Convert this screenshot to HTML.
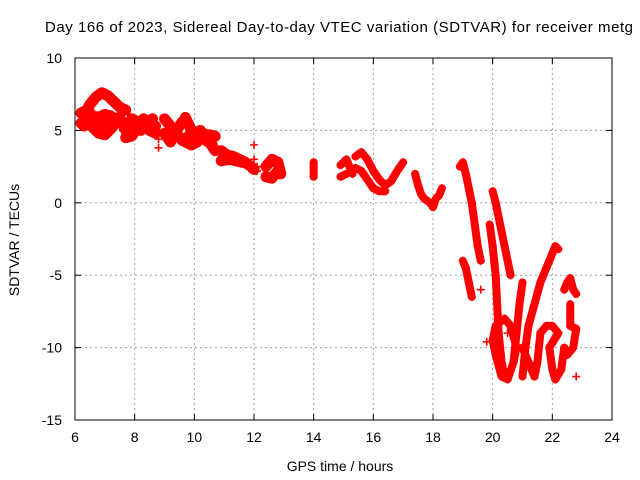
<!DOCTYPE html>
<html><head><meta charset="utf-8"><style>
body{margin:0;background:#fff}
svg{display:block;font-family:"Liberation Sans",sans-serif}
</style></head><body>
<svg id="chart" width="640" height="480">
<text x="45" y="32" font-size="15" textLength="588" lengthAdjust="spacing">Day 166 of 2023, Sidereal Day-to-day VTEC variation (SDTVAR) for receiver metg</text>
<text x="340" y="471" font-size="14" text-anchor="middle">GPS time / hours</text>
<text transform="translate(19,240) rotate(-90)" font-size="14" text-anchor="middle">SDTVAR / TECUs</text>
<g id="grid"></g><g id="marks"></g><g id="axes"></g>
</svg>
<script>
const xTicks=[6,8,10,12,14,16,18,20,22,24];
const yTicks=[10,5,0,-5,-10,-15];
// each track: times (hours) and SDTVAR values (TECU)
const trackTimes=[
[6.3,6.5,6.7,6.9,7.1,7.3,7.5,7.7],
[6.2,6.4,6.6,6.8,7.0,7.2,7.4,7.6],
[6.2,6.4,6.6,6.8,7.0,7.2],
[7.7,7.9,8.1,8.3,8.5,8.7],
[7.7,7.9,8.1,8.3,8.5,8.7],
[9.0,9.2,9.4,9.6],
[9.0,9.2,9.4,9.6],
[9.7,9.9,10.1,10.3,10.5,10.7],
[9.7,9.9,10.1,10.3,10.5,10.7],
[10.9,11.1,11.3,11.5,11.7,11.9,12.0],
[10.9,11.2,11.6],
[12.4,12.6,12.8,12.9],
[12.4,12.6,12.8],
[14.0,14.0,14.0],
[14.9,15.1,15.3],
[14.9,15.1],
[15.4,15.6,15.8,16.0,16.2,16.4,16.6,16.8,17.0],
[15.4,15.6,15.8,16.0,16.2,16.4],
[17.4,17.5,17.6,17.7,17.9,18.0,18.1,18.2,18.3],
[18.9,19.0,19.1,19.2,19.3,19.4,19.5,19.6],
[19.0,19.1,19.2,19.3],
[20.0,20.1,20.2,20.3,20.4,20.5,20.6],
[19.9,20.0,20.1,20.15,20.2,20.3,20.4],
[20.0,20.1,20.2,20.4,20.6,20.8,20.7,20.5,20.3,20.1,20.0],
[20.7,20.8,20.9,21.0],
[21.0,21.1,21.2,21.4,21.6,21.8,22.0,22.1,22.2],
[21.0,21.2,21.4,21.5,21.6,21.8,22.0,22.2,21.9,22.0,22.1,22.3,22.4],
[22.4,22.5,22.6,22.7,22.8],
[22.6,22.6,22.8,22.7,22.5],
[6.3,6.5,6.7,6.9,7.1,7.3,7.5],
[7.8,8.0,8.2,8.4,8.6],
[9.8,10.0,10.2,10.4,10.6],
[7.5,8.8,8.8,8.8,12.0,12.0,12.1,12.1,19.6,19.8,22.8,20.5]
];
const trackValues=[
[6.0,6.8,7.3,7.6,7.4,7.0,6.6,6.4],
[5.5,5.8,5.2,4.8,4.7,5.1,5.6,5.6],
[6.2,6.4,6.0,5.9,6.1,6.0],
[5.0,5.8,5.6,5.3,5.0,4.8],
[4.5,4.6,5.2,5.8,5.5,5.3],
[5.8,5.3,4.8,4.3],
[4.8,4.2,5.0,5.6],
[5.9,5.0,4.5,4.4,4.7,4.6],
[4.2,4.0,4.2,4.8,4.2,3.6],
[3.6,3.3,3.2,3.0,2.8,2.5,2.3],
[2.9,3.0,2.8],
[2.5,3.0,2.8,2.0],
[1.8,1.7,2.2],
[2.8,2.2,1.8],
[2.6,3.0,2.0],
[1.8,2.0],
[3.2,3.5,3.0,2.2,1.6,1.2,1.5,2.2,2.8],
[2.4,2.2,1.6,1.0,0.8,0.8],
[2.0,1.2,0.6,0.3,0.0,-0.3,0.3,0.5,1.0],
[2.5,2.8,2.0,1.0,0.0,-1.5,-3.0,-4.0],
[-4.0,-4.5,-5.5,-6.5],
[0.8,0.0,-1.0,-2.0,-3.0,-4.0,-5.0],
[-1.5,-3.0,-5.0,-7.0,-9.0,-11.0,-12.0],
[-9.5,-8.5,-8.3,-8.0,-8.5,-10.0,-11.0,-12.2,-12.0,-10.5,-9.5],
[-11.0,-9.0,-7.0,-5.5],
[-12.0,-10.0,-8.5,-7.0,-5.5,-4.5,-3.5,-3.0,-3.2],
[-10.0,-11.0,-12.0,-11.0,-9.0,-8.5,-8.5,-9.0,-10.0,-11.5,-12.2,-11.5,-10.0],
[-6.0,-5.5,-5.2,-6.0,-6.3],
[-7.0,-8.5,-8.7,-10.0,-10.5],
[5.3,5.5,5.6,5.4,5.6,5.8,5.9],
[5.2,5.4,5.0,5.6,5.8],
[4.6,4.8,5.0,4.3,4.0],
[5.2,5.0,4.4,3.8,4.0,3.0,2.5,2.2,-6.0,-9.6,-12.0,-9.0]
];
const X0=75,X1=612,Y0=420,Y1=58;
const xs=t=>X0+(t-6)/(24-6)*(X1-X0);
const ys=v=>Y0-(v+15)/(10+15)*(Y0-Y1);
const NS="http://www.w3.org/2000/svg";
function mk(tag,attrs,parent){const e=document.createElementNS(NS,tag);for(const k in attrs)e.setAttribute(k,attrs[k]);parent.appendChild(e);return e;}
const grid=document.getElementById('grid'),axes=document.getElementById('axes'),marks=document.getElementById('marks');
xTicks.forEach(t=>{const x=xs(t);
 if(t>6&&t<24){const g=mk('line',{x1:x,x2:x,y1:Y1,y2:Y0,stroke:'#a0a0a0','stroke-dasharray':'2,3'},grid);}
 mk('line',{x1:x,x2:x,y1:Y0,y2:Y0-6,stroke:'#000'},axes);mk('line',{x1:x,x2:x,y1:Y1,y2:Y1+6,stroke:'#000'},axes);
 const l=mk('text',{x:x,y:442,'font-size':14,'text-anchor':'middle'},axes);l.textContent=t;
 
 });
yTicks.forEach(v=>{const y=ys(v);
 if(v>-15&&v<10){const g=mk('line',{x1:X0,x2:X1,y1:y,y2:y,stroke:'#a0a0a0','stroke-dasharray':'2,3'},grid);}
 mk('line',{x1:X0,x2:X0+6,y1:y,y2:y,stroke:'#000'},axes);mk('line',{x1:X1,x2:X1-6,y1:y,y2:y,stroke:'#000'},axes);
 const l=mk('text',{x:62,y:y+5,'font-size':14,'text-anchor':'end'},axes);l.textContent=v;
 
 });
const fr=mk('rect',{x:X0,y:Y1,width:X1-X0,height:Y0-Y1,fill:'none',stroke:'#000'},axes);


trackTimes.forEach((ts,i)=>{const vs=trackValues[i];
 const g=mk('g',{},marks);
 
 
 if(i<trackTimes.length-1){const pts=ts.map((t,j)=>xs(t)+','+ys(vs[j])).join(' ');
  const w=ts[0]<13?11:8;
  mk('polyline',{points:pts,fill:'none',stroke:'#ff0000','stroke-width':w,'stroke-linejoin':'round','stroke-linecap':'round'},g);}
 ts.forEach((t,j)=>{const x=xs(t),y=ys(vs[j]);
  const p=mk('path',{d:`M${x-4},${y}H${x+4}M${x},${y-4}V${y+4}`,stroke:'#ff0000','stroke-width':1.6},g);
  
  });
});
</script>
</body></html>
